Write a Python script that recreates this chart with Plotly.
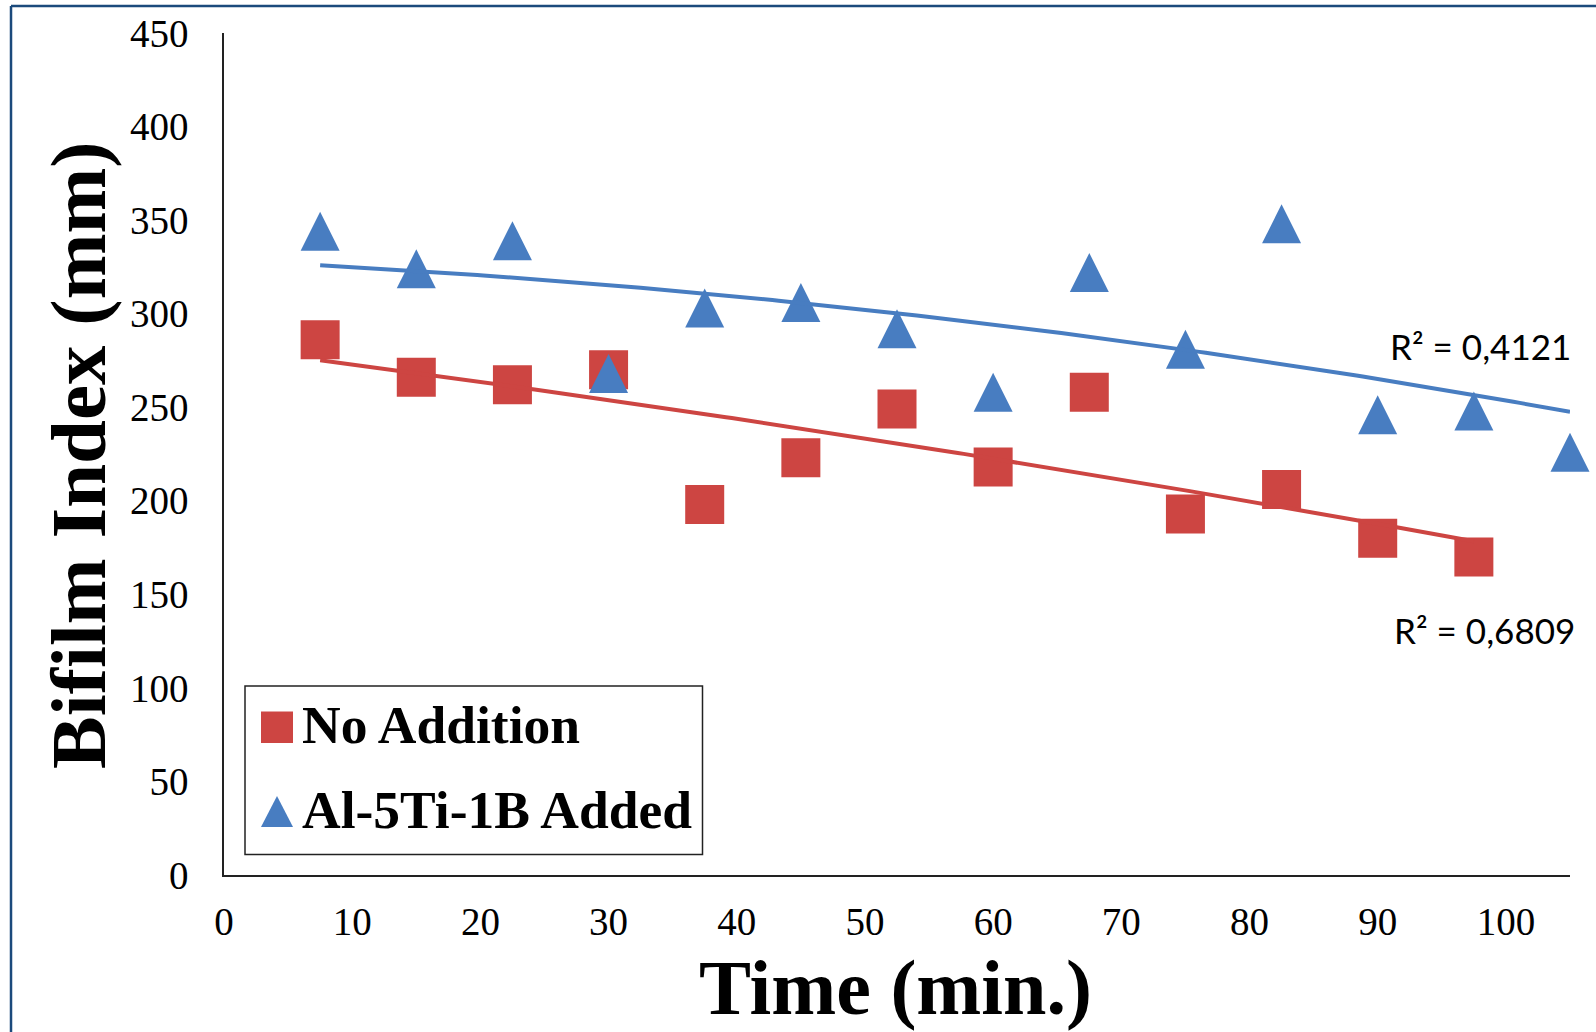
import numpy as np
import plotly.graph_objects as go

# ---- data ----
time_no_addition = [7.5, 15, 22.5, 30, 37.5, 45, 52.5, 60, 67.5, 75, 82.5, 90, 97.5]
bifilm_no_addition = [286, 266, 262, 270, 198, 223, 249, 218, 258, 193, 206, 180, 170]

time_al_added = [7.5, 15, 22.5, 30, 37.5, 45, 52.5, 60, 67.5, 75, 82.5, 90, 97.5, 105]
bifilm_al_added = [344, 324, 339, 268, 303, 306, 292, 258, 322, 281, 348, 246, 248, 226]

series_names = ["No Addition", "Al-5Ti-1B Added"]
r2_labels = ["R² = 0,6809", "R² = 0,4121"]
x_ticks = [0, 10, 20, 30, 40, 50, 60, 70, 80, 90, 100]
y_ticks = [0, 50, 100, 150, 200, 250, 300, 350, 400, 450]

RED = "#CD4542"
BLUE = "#487DC1"

W, H = 1596, 1032
L, R, T, B = 224, 26, 33, 157
X_LEFT, X_RIGHT = L, W - R
Y_TOP, Y_BOT = T, H - B


def px_x(p):
    return (p - X_LEFT) / (X_RIGHT - X_LEFT)


def px_y(p):
    return (Y_BOT - p) / (Y_BOT - Y_TOP)


def trend(xs, ys):
    c = np.polyfit(xs, ys, 2)
    xx = np.linspace(min(xs), max(xs), 200)
    return xx, np.polyval(c, xx)


TRI = 39  # triangle marker size (width = height = TRI, centred on the point)

fig = go.Figure()

fig.add_trace(go.Scatter(
    x=time_no_addition, y=bifilm_no_addition, mode="markers", name=series_names[0],
    marker=dict(symbol="square", size=39, color=RED), cliponaxis=False, showlegend=False))
fig.add_trace(go.Scatter(
    x=time_al_added, y=bifilm_al_added, mode="markers", name=series_names[1],
    marker=dict(symbol="arrow-down", size=TRI, angle=180, standoff=TRI / 2, color=BLUE,
                line=dict(width=0)),
    cliponaxis=False, showlegend=False))

tx, ty = trend(time_no_addition, bifilm_no_addition)
fig.add_trace(go.Scatter(x=tx, y=ty, mode="lines", line=dict(color=RED, width=4),
                         showlegend=False, hoverinfo="skip", cliponaxis=False))
tx, ty = trend(time_al_added, bifilm_al_added)
fig.add_trace(go.Scatter(x=tx, y=ty, mode="lines", line=dict(color=BLUE, width=4),
                         showlegend=False, hoverinfo="skip", cliponaxis=False))

tick_font = dict(family="Liberation Serif", size=39, color="black")

fig.update_xaxes(range=[0, 105], tickvals=x_ticks, ticktext=[str(v) for v in x_ticks],
                 showline=True, linecolor="#222", linewidth=1.5, showgrid=False,
                 zeroline=False, ticks="", tickfont=tick_font, ticklabelstandoff=11)
fig.update_yaxes(range=[0, 450], tickvals=y_ticks, ticktext=[str(v) for v in y_ticks],
                 showline=True, linecolor="#222", linewidth=1.5, showgrid=False,
                 zeroline=False, ticks="", tickfont=tick_font, ticklabelstandoff=26)

shapes = []
# outer image border (top and left edges visible)
shapes.append(dict(type="line", xref="paper", yref="paper", x0=px_x(11), x1=px_x(1610),
                   y0=px_y(6), y1=px_y(6), line=dict(color="#1B4A7C", width=2.5)))
shapes.append(dict(type="line", xref="paper", yref="paper", x0=px_x(11), x1=px_x(11),
                   y0=px_y(6), y1=px_y(1045), line=dict(color="#1B4A7C", width=2.5)))
# legend box
shapes.append(dict(type="rect", xref="paper", yref="paper", x0=px_x(245), x1=px_x(702.5),
                   y0=px_y(854.5), y1=px_y(686), line=dict(color="#222", width=1.5),
                   fillcolor="white", layer="above"))
# legend square
shapes.append(dict(type="rect", xref="paper", yref="paper", x0=px_x(261), x1=px_x(293),
                   y0=px_y(743), y1=px_y(711.5), line=dict(width=0), fillcolor=RED, layer="above"))
# legend triangle
tri = "M {:.5f} {:.5f} L {:.5f} {:.5f} L {:.5f} {:.5f} Z".format(
    px_x(261), px_y(827), px_x(293), px_y(827), px_x(277), px_y(796))
shapes.append(dict(type="path", xref="paper", yref="paper", path=tri,
                   line=dict(width=0), fillcolor=BLUE, layer="above"))

legend_font = dict(family="Liberation Serif", size=53.5, color="black")
annotations = [
    dict(text="<b>" + series_names[0] + "</b>", xref="paper", yref="paper",
         x=px_x(300), y=px_y(725), xanchor="left", yanchor="middle", showarrow=False,
         font=legend_font),
    dict(text="<b>" + series_names[1] + "</b>", xref="paper", yref="paper",
         x=px_x(300), y=px_y(810), xanchor="left", yanchor="middle", showarrow=False,
         font=legend_font),
    dict(text=r2_labels[1], xref="paper", yref="paper", x=px_x(1573), y=px_y(346),
         xanchor="right", yanchor="middle", showarrow=False,
         font=dict(family="Lato", size=35, color="black")),
    dict(text=r2_labels[0], xref="paper", yref="paper", x=px_x(1577), y=px_y(630),
         xanchor="right", yanchor="middle", showarrow=False,
         font=dict(family="Lato", size=35, color="black")),
    dict(text="<b>Time (min.)</b>", xref="paper", yref="paper", x=px_x(895), y=px_y(987),
         xanchor="center", yanchor="middle", showarrow=False,
         font=dict(family="Liberation Serif", size=78, color="black")),
    dict(text="<b>Bifilm Index (mm)</b>", xref="paper", yref="paper", x=px_x(78), y=px_y(455),
         xanchor="center", yanchor="middle", showarrow=False, textangle=-90,
         font=dict(family="Liberation Serif", size=79, color="black")),
]

fig.update_layout(
    width=W, height=H, autosize=False,
    margin=dict(l=L, r=R, t=T, b=B, pad=0),
    paper_bgcolor="white", plot_bgcolor="white",
    showlegend=False, shapes=shapes, annotations=annotations,
)

fig.write_html("out.html", config={"displayModeBar": False},
               post_script="document.body.style.margin='0';")
